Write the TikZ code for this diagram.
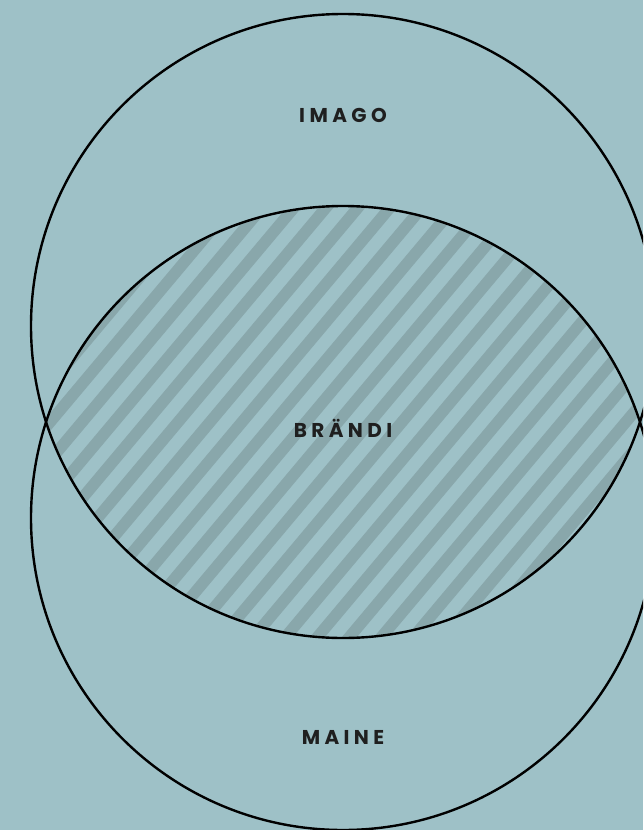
\documentclass[tikz,border=0pt]{standalone}
\usepackage{fontspec}
\newfontfamily\labfont{Poppins}[LetterSpace=22]
\definecolor{bgc}{RGB}{158,193,199}
\definecolor{stripec}{RGB}{137,167,171}
\tikzset{
  ring/.style={draw=black, line width=2.4pt},
  lbl/.style={font=\labfont\bfseries\fontsize{20}{22}\selectfont, text=black!88, inner sep=0pt},
  stripe/.style={draw=stripec, line width=11.5pt}
}
\begin{document}
\begin{tikzpicture}[x=1pt,y=-1pt]
\useasboundingbox (0,0) rectangle (643,830);
\fill[bgc] (0,0) rectangle (643,830);
\clip (0,0) rectangle (643,830);
\coordinate (c1) at (343,326);
\coordinate (c2) at (343,518);
\begin{scope}
  \clip (c1) circle[radius=312];
  \clip (c2) circle[radius=312];
  \begin{scope}[shift={(338,422)}, rotate=50]
    \foreach \k in {-25,...,25} {
      \draw[stripe] (-700,\k*24.5) -- (700,\k*24.5);
    }
  \end{scope}
\end{scope}
\draw[ring] (c1) circle[radius=312];
\draw[ring] (c2) circle[radius=312];
\node[lbl] (imago) at (343,115) {IMAGO};
\node[lbl] (brandi) at (343,428) {BRÄNDI};
\node[lbl] (maine) at (343,737) {MAINE};
\end{tikzpicture}
\end{document}
